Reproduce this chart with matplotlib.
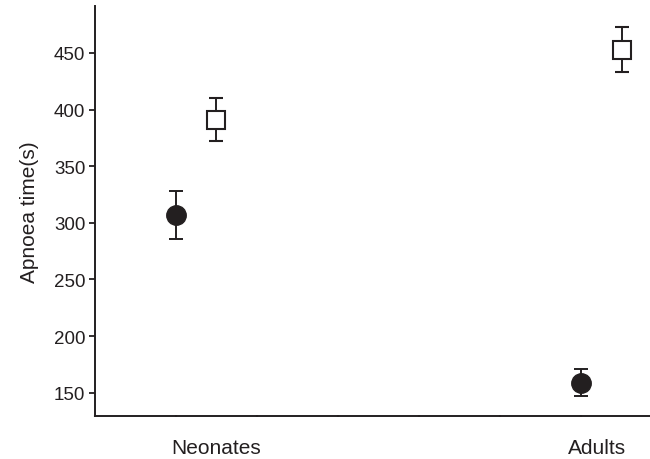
import matplotlib
matplotlib.use("Agg")
import matplotlib.pyplot as plt
import numpy as np

# valores
groups = ["Neonates", "Adults"]
circle_x = [1, 6]
circle_y = [307, 159]
circle_err = [21, 12]
square_x = [1.5, 6.5]
square_y = [391, 453]
square_err = [19, 20]
label_x = [1.5, 6.2]
y_ticks = [150, 200, 250, 300, 350, 400, 450]

ink = "#231f20"
plt.rcParams["font.family"] = ["Liberation Sans", "DejaVu Sans"]

fig = plt.figure(figsize=(6.5, 4.6), dpi=100)
ax = fig.add_axes([0.1454, 0.0941, 0.8546, 0.8907])

ax.errorbar(circle_x, circle_y, yerr=circle_err, fmt="o", color=ink,
            markersize=14, capsize=5, elinewidth=1.4, capthick=1.4)
ax.errorbar(square_x, square_y, yerr=square_err, fmt="s", color=ink,
            markerfacecolor="white", markeredgecolor=ink, markeredgewidth=1.5,
            markersize=12.5, capsize=5, elinewidth=1.4, capthick=1.4)

ax.set_xlim(0, 6.85)
ax.set_ylim(129.7, 491.5)

ax.spines["top"].set_visible(False)
ax.spines["right"].set_visible(False)
for s in ["left", "bottom"]:
    ax.spines[s].set_linewidth(1.4)
    ax.spines[s].set_color(ink)

ax.set_yticks(y_ticks)
ax.tick_params(axis="y", length=4.5, width=1.3, color=ink, labelsize=13.5,
               labelcolor=ink, pad=2)

ax.set_xticks(label_x)
ax.set_xticklabels(groups)
ax.set_xticks(np.arange(0, 7), minor=True)
ax.tick_params(axis="x", which="major", length=0, labelsize=15,
               labelcolor=ink, pad=16)
ax.tick_params(axis="x", which="minor", length=2, width=1.5, color=ink,
               direction="inout")

ax.set_ylabel("Apnoea time(s)", fontsize=15, color=ink, labelpad=11)

fig.savefig("out.png", dpi=100)
